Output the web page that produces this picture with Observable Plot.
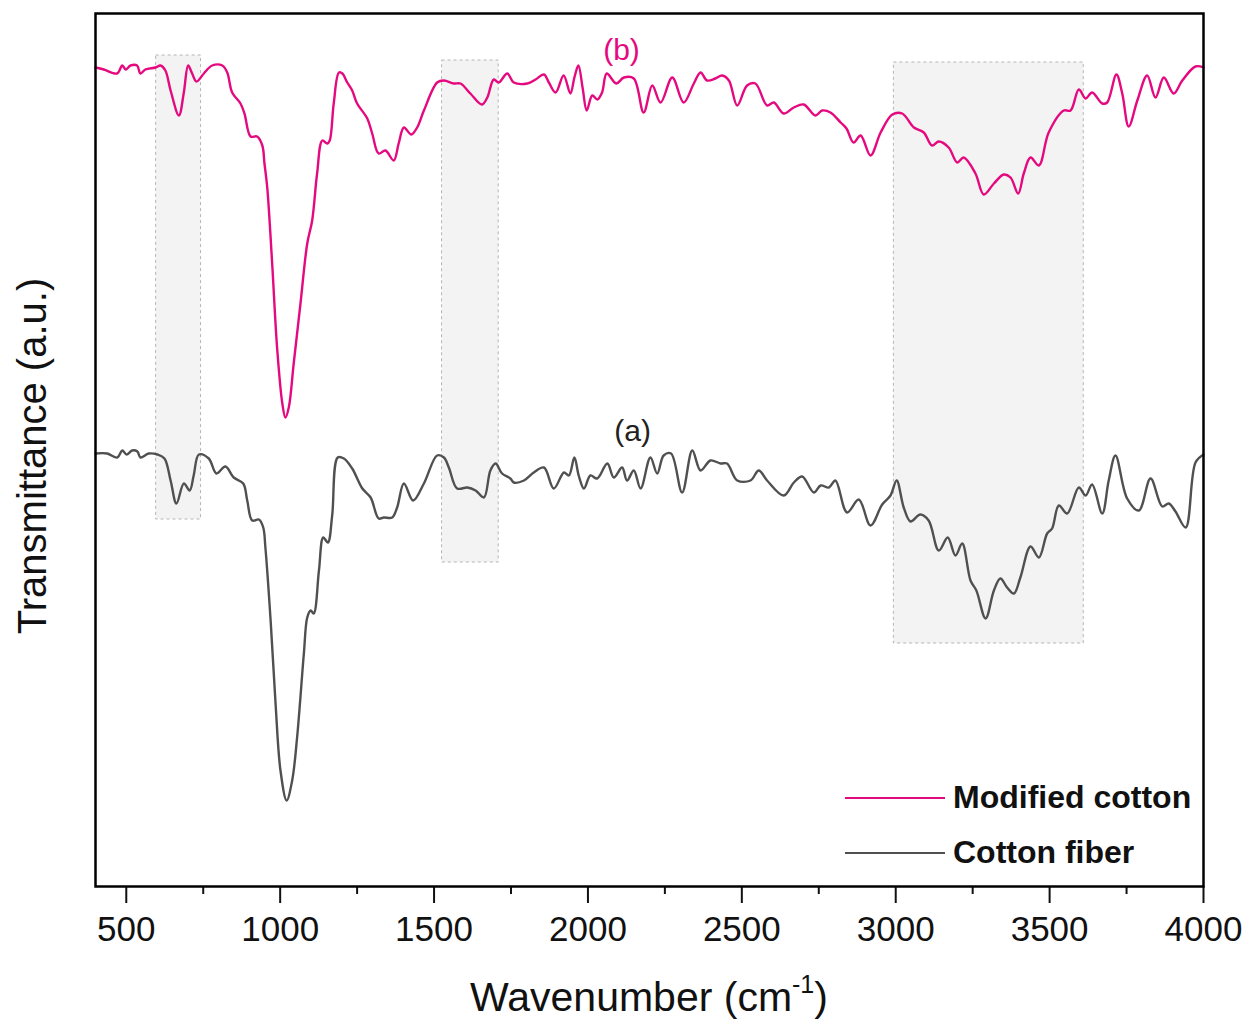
<!DOCTYPE html>
<html>
<head>
<meta charset="utf-8">
<script src="https://cdn.jsdelivr.net/npm/d3@7"></script>
<script src="https://cdn.jsdelivr.net/npm/@observablehq/plot@0.6"></script>
<style>
  html, body { margin: 0; padding: 0; background: #fff; }
  #wrap { position: relative; width: 1252px; height: 1022px; font-family: "Liberation Sans", Arial, sans-serif; }
  #xtitle { position: absolute; left: 95px; width: 1120px; top: 974px; text-align: center; font-size: 41px; color: #111; }
  #xtitle sup { font-size: 25px; position: relative; top: -4px; vertical-align: top; }
  .leg { position: absolute; left: 845px; display: flex; align-items: center; font-weight: bold; font-size: 32px; color: #111; }
  .leg span.sw { display: inline-block; width: 100px; height: 0; border-top: 2.5px solid; margin-right: 8px; }
</style>
</head>
<body>
<div id="wrap"></div>
<script>
// Series names and colours
const seriesNames = ["Modified cotton", "Cotton fiber"];
const seriesColors = ["#e5097f", "#505050"];

// Modified cotton (b)
const waveB = [400,427,470,487,498,514,535,546,562,595,611,627,644,671,687,701,714,728,752,779,812,828,844,871,884,904,925,942,949,958,974,990,1007,1017,1028,1044,1066,1088,1104,1120,1137,1153,1161,1174,1191,1202,1218,1234,1250,1283,1299,1320,1342,1369,1385,1402,1426,1445,1467,1510,1532,1564,1586,1618,1656,1673,1694,1710,1738,1759,1803,1830,1857,1873,1895,1921,1943,1956,1969,1983,1996,2014,2031,2046,2061,2092,2117,2149,2181,2209,2236,2274,2311,2344,2366,2387,2414,2436,2458,2485,2517,2544,2582,2604,2636,2669,2701,2739,2761,2788,2821,2840,2863,2886,2918,2951,2989,3021,3059,3091,3118,3140,3172,3200,3221,3259,3286,3319,3351,3373,3398,3416,3438,3465,3497,3546,3568,3595,3617,3638,3671,3687,3717,3736,3757,3785,3817,3844,3871,3903,3931,3974,4000];
const transB = [81.9,81.7,81.3,82.1,81.7,82.1,82.1,81.3,81.7,81.9,82.1,81.6,79.6,77.1,79.4,82.1,81.3,80.5,81.3,82.1,82.1,81.4,79.4,78.3,77.3,75.0,75.0,74.1,72.3,69.9,62.3,53.9,48.3,46.9,47.9,52.3,58.3,64.3,66.6,71.3,74.6,74.3,74.6,78.3,81.4,81.3,80.4,79.6,78.3,76.8,75.3,73.3,73.6,72.6,74.3,75.9,75.2,75.9,77.6,80.4,80.6,80.3,80.3,79.3,78.2,78.9,80.7,80.4,81.3,80.4,80.3,80.7,81.2,80.4,79.4,81.1,79.3,80.9,82.1,79.8,77.6,79.1,78.7,79.4,81.3,80.3,80.9,80.8,77.4,80.1,78.4,80.9,78.4,80.3,81.4,80.6,80.8,81.1,80.6,78.1,80.1,80.3,78.1,78.4,77.3,77.9,78.2,77.1,77.6,77.4,76.4,75.8,74.4,75.1,73.1,75.4,77.2,77.3,75.9,75.4,74.1,74.5,73.9,72.4,72.9,71.3,69.2,70.3,71.2,70.9,69.3,71.3,72.9,72.1,75.4,77.6,77.6,79.7,78.8,79.4,78.3,78.4,81.2,79.3,76.0,78.6,81.1,78.9,80.9,79.3,80.6,82.0,81.9];

// Cotton fiber (a)
const waveA = [400,438,471,487,501,519,536,546,573,601,624,644,663,687,706,719,736,768,793,822,849,880,893,909,931,945,952,969,985,1001,1021,1039,1055,1077,1088,1099,1109,1126,1140,1155,1169,1187,1207,1234,1267,1294,1320,1337,1364,1380,1402,1432,1467,1510,1532,1548,1575,1608,1635,1662,1683,1700,1721,1748,1759,1792,1824,1857,1889,1922,1938,1956,1970,1987,2008,2030,2063,2084,2111,2127,2149,2171,2203,2225,2246,2270,2306,2339,2366,2398,2431,2452,2485,2528,2555,2582,2636,2669,2696,2734,2756,2783,2804,2842,2880,2918,2956,2983,3003,3026,3048,3080,3107,3140,3169,3194,3216,3243,3262,3292,3319,3340,3362,3384,3405,3438,3465,3492,3508,3530,3557,3595,3617,3638,3671,3692,3714,3752,3790,3828,3866,3887,3909,3942,3974,4000];
const transA = [43.3,43.3,42.9,43.6,43.2,43.6,43.5,42.9,43.3,43.2,42.8,40.6,38.3,40.3,39.6,41.1,43.2,42.8,41.3,42.0,40.9,40.3,38.6,36.6,36.7,35.9,33.9,26.6,18.3,11.6,8.6,10.6,14.9,23.3,26.9,27.6,27.3,31.6,34.9,34.4,37.1,42.9,42.8,41.8,39.8,38.9,36.8,36.9,36.9,37.9,40.3,38.6,40.3,43.1,42.9,41.9,39.8,39.9,39.6,38.9,41.6,42.3,41.3,40.8,40.4,40.6,41.4,41.9,39.8,41.4,41.1,42.9,41.1,39.8,41.1,40.8,42.3,40.9,41.9,40.6,41.6,39.8,42.9,41.3,43.1,43.3,39.4,43.6,41.6,42.6,42.3,42.3,40.6,40.6,41.6,40.6,39.1,40.4,41.0,39.4,40.1,39.9,40.6,37.4,38.7,36.1,38.2,39.1,40.6,37.9,36.5,37.2,36.6,33.6,34.9,33.1,34.3,30.6,29.6,26.8,29.6,30.8,29.9,29.3,30.9,34.0,32.9,35.3,35.8,38.1,37.3,39.9,39.1,40.2,37.3,40.6,43.1,38.8,37.6,40.8,38.0,38.3,37.5,35.9,42.4,43.2];

// Highlighted bands
const bandX1 = [597, 1526, 2994];
const bandX2 = [743, 1710, 3611];
const bandTop = [83.1, 82.6, 82.4];
const bandBottom = [36.7, 32.4, 24.3];

// Curve labels
const labelText = ["(b)", "(a)"];
const labelX = [2109, 2145];
const labelY = [83.6, 45.5];
const labelColor = ["#e5097f", "#222222"];

// Axis ticks
const majorTicks = [500, 1000, 1500, 2000, 2500, 3000, 3500, 4000];
const minorTicks = [750, 1250, 1750, 2250, 2750, 3250, 3750];

const rows = [
  ...waveB.map((w, i) => ({wave: w, t: transB[i], series: seriesNames[0]})),
  ...waveA.map((w, i) => ({wave: w, t: transA[i], series: seriesNames[1]}))
];
const bands = bandX1.map((x1, i) => ({x1, x2: bandX2[i], y1: bandBottom[i], y2: bandTop[i]}));
const labels = labelText.map((t, i) => ({t, x: labelX[i], y: labelY[i], c: labelColor[i]}));

const chart = Plot.plot({
  width: 1252,
  height: 1022,
  marginLeft: 95,
  marginRight: 49,
  marginTop: 13,
  marginBottom: 136,
  style: {fontFamily: '"Liberation Sans", Arial, sans-serif', background: "white", color: "#111"},
  x: {domain: [400, 4000]},
  y: {domain: [0, 87.3], axis: null},
  color: {domain: seriesNames, range: seriesColors},
  marks: [
    Plot.rect(bands, {x1: "x1", x2: "x2", y1: "y1", y2: "y2", fill: "#f3f3f3", stroke: "#b5b5b5", strokeWidth: 1, strokeDasharray: "3,3"}),
    Plot.line(rows, {x: "wave", y: "t", z: "series", stroke: "series", strokeWidth: 2.4, curve: "catmull-rom"}),
    Plot.text(labels, {x: "x", y: "y", text: "t", fill: "c", fontSize: 30}),
    Plot.axisX({ticks: minorTicks, tickSize: 8, tickFormat: null, text: null, strokeWidth: 2, label: null}),
    Plot.axisX({ticks: majorTicks, tickSize: 17, tickPadding: 13, tickFormat: d => String(d), fontSize: 35, strokeWidth: 2, label: null}),
    Plot.text(["Transmittance (a.u.)"], {frameAnchor: "left", textAnchor: "middle", rotate: -90, dx: -62, dy: 6, fontSize: 40, fill: "#111"}),
    Plot.frame({stroke: "#000", strokeWidth: 2.5})
  ]
});

const wrap = document.getElementById("wrap");
wrap.appendChild(chart);

const xt = document.createElement("div");
xt.id = "xtitle";
xt.innerHTML = "Wavenumber (cm<sup>-1</sup>)";
xt.style.width = (1252 - 95 - 49) + "px";
wrap.appendChild(xt);

const legTops = [779, 834];
seriesNames.forEach((name, i) => {
  const d = document.createElement("div");
  d.className = "leg";
  d.style.top = legTops[i] + "px";
  const sw = document.createElement("span");
  sw.className = "sw";
  sw.style.borderTopColor = seriesColors[i];
  d.appendChild(sw);
  d.appendChild(document.createTextNode(name));
  wrap.appendChild(d);
});
</script>
</body>
</html>
